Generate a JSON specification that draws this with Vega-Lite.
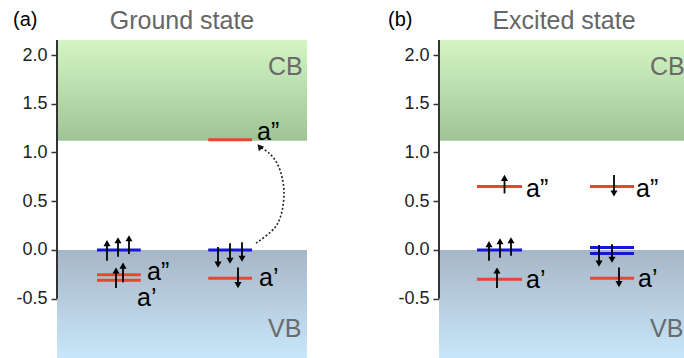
{
  "$schema": "https://vega.github.io/schema/vega-lite/v6.json",
  "padding": {"left": 13, "top": 9, "right": 0, "bottom": 0},
  "spacing": 80,
  "config": {
    "view": {"stroke": null},
    "font": "Liberation Sans",
    "axis": {"grid": false}
  },
  "datasets": {
    "bands": [
      {"panel": "a", "band": "CB", "x": 0, "x2": 10, "y": 1.12, "y2": 2.154},
      {"panel": "a", "band": "VB", "x": 0, "x2": 10, "y": -1.108, "y2": 0},
      {"panel": "b", "band": "CB", "x": 0, "x2": 9.84, "y": 1.12, "y2": 2.154},
      {"panel": "b", "band": "VB", "x": 0, "x2": 9.84, "y": -1.108, "y2": 0}
    ],
    "bandlabels": [
      {"panel": "a", "t": "CB", "x": 8.44, "y": 1.88},
      {"panel": "a", "t": "VB", "x": 8.44, "y": -0.81},
      {"panel": "b", "t": "CB", "x": 8.44, "y": 1.88},
      {"panel": "b", "t": "VB", "x": 8.44, "y": -0.81}
    ],
    "axisline": [
      {"panel": "a", "x": 0, "y": -0.5, "y2": 2.154},
      {"panel": "b", "x": 0, "y": -0.5, "y2": 2.154}
    ],
    "levels": [
      {"panel": "a", "x": 1.6, "x2": 3.35, "y": 0, "orb": "blue"},
      {"panel": "a", "x": 1.6, "x2": 3.35, "y": -0.255, "orb": "red"},
      {"panel": "a", "x": 1.6, "x2": 3.35, "y": -0.31, "orb": "red"},
      {"panel": "a", "x": 6.05, "x2": 7.8, "y": 0, "orb": "blue"},
      {"panel": "a", "x": 6.05, "x2": 7.8, "y": -0.29, "orb": "red"},
      {"panel": "a", "x": 6.05, "x2": 7.8, "y": 1.13, "orb": "red"},
      {"panel": "b", "x": 1.52, "x2": 3.32, "y": 0, "orb": "blue"},
      {"panel": "b", "x": 1.52, "x2": 3.32, "y": -0.3, "orb": "red"},
      {"panel": "b", "x": 1.52, "x2": 3.32, "y": 0.65, "orb": "red"},
      {"panel": "b", "x": 6.04, "x2": 7.8, "y": 0.025, "orb": "blue"},
      {"panel": "b", "x": 6.04, "x2": 7.8, "y": -0.035, "orb": "blue"},
      {"panel": "b", "x": 6.04, "x2": 7.8, "y": -0.29, "orb": "red"},
      {"panel": "b", "x": 6.04, "x2": 7.8, "y": 0.65, "orb": "red"}
    ],
    "arrows": [
      {"panel": "a", "x": 2.0, "y": -0.11, "y2": 0.07, "dir": "up"},
      {"panel": "a", "x": 2.44, "y": -0.07, "y2": 0.1, "dir": "up"},
      {"panel": "a", "x": 2.88, "y": -0.04, "y2": 0.12, "dir": "up"},
      {"panel": "a", "x": 2.36, "y": -0.39, "y2": -0.21, "dir": "up"},
      {"panel": "a", "x": 2.64, "y": -0.33, "y2": -0.16, "dir": "up"},
      {"panel": "a", "x": 6.44, "y": 0.03, "y2": -0.15, "dir": "down"},
      {"panel": "a", "x": 6.92, "y": 0.07, "y2": -0.11, "dir": "down"},
      {"panel": "a", "x": 7.4, "y": 0.08, "y2": -0.09, "dir": "down"},
      {"panel": "a", "x": 7.24, "y": -0.18, "y2": -0.36, "dir": "down"},
      {"panel": "b", "x": 2.0, "y": -0.11, "y2": 0.06, "dir": "up"},
      {"panel": "b", "x": 2.44, "y": -0.08, "y2": 0.09, "dir": "up"},
      {"panel": "b", "x": 2.88, "y": -0.06, "y2": 0.1, "dir": "up"},
      {"panel": "b", "x": 2.32, "y": -0.39, "y2": -0.21, "dir": "up"},
      {"panel": "b", "x": 2.62, "y": 0.58, "y2": 0.74, "dir": "up"},
      {"panel": "b", "x": 7.0, "y": 0.77, "y2": 0.58, "dir": "down"},
      {"panel": "b", "x": 6.4, "y": 0.05, "y2": -0.14, "dir": "down"},
      {"panel": "b", "x": 6.92, "y": 0.06, "y2": -0.1, "dir": "down"},
      {"panel": "b", "x": 7.2, "y": -0.18, "y2": -0.35, "dir": "down"}
    ],
    "labels": [
      {"panel": "a", "t": "a\u201d", "x": 3.6, "y": -0.31},
      {"panel": "a", "t": "a\u2019", "x": 3.2, "y": -0.57},
      {"panel": "a", "t": "a\u2019", "x": 8.08, "y": -0.37},
      {"panel": "a", "t": "a\u201d", "x": 8.0, "y": 1.13},
      {"panel": "b", "t": "a\u201d", "x": 3.48, "y": 0.54},
      {"panel": "b", "t": "a\u2019", "x": 3.48, "y": -0.39},
      {"panel": "b", "t": "a\u201d", "x": 7.88, "y": 0.54},
      {"panel": "b", "t": "a\u2019", "x": 7.96, "y": -0.38}
    ],
    "curve": [
      {"i": 0, "x": 7.96, "y": 0.07},
      {"i": 1, "x": 8.8, "y": 0.26},
      {"i": 2, "x": 9.08, "y": 0.58},
      {"i": 3, "x": 8.86, "y": 0.86},
      {"i": 4, "x": 8.5, "y": 0.99},
      {"i": 5, "x": 8.15, "y": 1.05}
    ],
    "curvehead": [
      {"x": 8.1, "y": 1.06}
    ],
    "titles": [
      {"panel": "a", "t": "Ground state", "x": 5.0, "y": 2.262},
      {"panel": "b", "t": "Excited state", "x": 5.0, "y": 2.262}
    ],
    "tags": [
      {"panel": "a", "t": "(a)", "x": -1.76, "y": 2.355},
      {"panel": "b", "t": "(b)", "x": -2.04, "y": 2.355}
    ]
  },
  "hconcat": [
    {
      "width": 250,
      "height": 318,
      "encoding": {
        "x": {"field": "x", "type": "quantitative", "scale": {"domain": [0, 10], "nice": false, "zero": false}, "axis": null},
        "y": {"field": "y", "type": "quantitative", "scale": {"domain": [-1.108, 2.154], "nice": false, "zero": false},
          "axis": {"domain": false, "values": [-0.5, 0, 0.5, 1, 1.5, 2], "tickSize": 6, "tickWidth": 1.5, "tickColor": "#333333", "labelFontSize": 18, "labelColor": "#222222", "labelPadding": 4, "labelFont": "Liberation Sans", "title": null, "labelExpr": "replace(format(datum.value, '.1f'), '\u2212', '-')"}}
      },
      "layer": [
        {"data": {"name": "bands"}, "transform": [{"filter": "datum.panel == 'a' && datum.band == 'CB'"}],
          "mark": {"type": "rect", "fill": {"gradient": "linear", "x1": 0, "y1": 0, "x2": 0, "y2": 1, "stops": [{"offset": 0, "color": "#d4f6c4"}, {"offset": 1, "color": "#9fc396"}]}},
          "encoding": {"x2": {"field": "x2"}, "y2": {"field": "y2"}}},
        {"data": {"name": "bands"}, "transform": [{"filter": "datum.panel == 'a' && datum.band == 'VB'"}],
          "mark": {"type": "rect", "fill": {"gradient": "linear", "x1": 0, "y1": 0, "x2": 0, "y2": 1, "stops": [{"offset": 0, "color": "#a7b6c6"}, {"offset": 1, "color": "#c8e6fa"}]}},
          "encoding": {"x2": {"field": "x2"}, "y2": {"field": "y2"}}},
        {"data": {"name": "axisline"}, "transform": [{"filter": "datum.panel == 'a'"}],
          "mark": {"type": "rule", "color": "#333333", "strokeWidth": 2},
          "encoding": {"y2": {"field": "y2"}}},
        {"data": {"name": "bandlabels"}, "transform": [{"filter": "datum.panel == 'a'"}],
          "mark": {"type": "text", "align": "left", "baseline": "middle", "fontSize": 25, "color": "#6a6a6a", "font": "Liberation Sans"},
          "encoding": {"text": {"field": "t"}}},
        {"data": {"name": "levels"}, "transform": [{"filter": "datum.panel == 'a'"}],
          "mark": {"type": "rule", "strokeWidth": 3},
          "encoding": {"x2": {"field": "x2"}, "color": {"field": "orb", "type": "nominal", "scale": {"domain": ["red", "blue"], "range": ["#e8472f", "#1616d6"]}, "legend": null}}},
        {"data": {"name": "arrows"}, "transform": [{"filter": "datum.panel == 'a'"}],
          "mark": {"type": "rule", "strokeWidth": 1.8, "color": "#000000"},
          "encoding": {"y2": {"field": "y2"}}},
        {"data": {"name": "arrows"}, "transform": [{"filter": "datum.panel == 'a'"}],
          "mark": {"type": "point", "filled": true, "size": 50, "opacity": 1, "color": "#000000"},
          "encoding": {"y": {"field": "y2", "type": "quantitative"}, "shape": {"field": "dir", "type": "nominal", "scale": {"domain": ["up", "down"], "range": ["triangle-up", "triangle-down"]}, "legend": null}}},
        {"data": {"name": "labels"}, "transform": [{"filter": "datum.panel == 'a'"}],
          "mark": {"type": "text", "align": "left", "baseline": "alphabetic", "fontSize": 25, "color": "#000000", "font": "Liberation Sans"},
          "encoding": {"text": {"field": "t"}}},
        {"data": {"name": "curve"},
          "mark": {"type": "line", "interpolate": "catmull-rom", "strokeDash": [2, 2], "strokeWidth": 1.6, "color": "#222222"},
          "encoding": {"order": {"field": "i", "type": "quantitative"}}},
        {"data": {"name": "curvehead"},
          "mark": {"type": "point", "shape": "triangle-up", "angle": -40, "filled": true, "size": 50, "opacity": 1, "color": "#111111"},
          "encoding": {}},
        {"data": {"name": "titles"}, "transform": [{"filter": "datum.panel == 'a'"}],
          "mark": {"type": "text", "align": "center", "baseline": "alphabetic", "fontSize": 25, "color": "#666666", "font": "Liberation Sans"},
          "encoding": {"text": {"field": "t"}}},
        {"data": {"name": "tags"}, "transform": [{"filter": "datum.panel == 'a'"}],
          "mark": {"type": "text", "align": "left", "baseline": "middle", "fontSize": 20, "color": "#000000", "font": "Liberation Sans"},
          "encoding": {"text": {"field": "t"}}}
      ]
    },
    {
      "width": 246,
      "height": 318,
      "encoding": {
        "x": {"field": "x", "type": "quantitative", "scale": {"domain": [0, 9.84], "nice": false, "zero": false}, "axis": null},
        "y": {"field": "y", "type": "quantitative", "scale": {"domain": [-1.108, 2.154], "nice": false, "zero": false},
          "axis": {"domain": false, "values": [-0.5, 0, 0.5, 1, 1.5, 2], "tickSize": 6, "tickWidth": 1.5, "tickColor": "#333333", "labelFontSize": 18, "labelColor": "#222222", "labelPadding": 4, "labelFont": "Liberation Sans", "title": null, "labelExpr": "replace(format(datum.value, '.1f'), '\u2212', '-')"}}
      },
      "layer": [
        {"data": {"name": "bands"}, "transform": [{"filter": "datum.panel == 'b' && datum.band == 'CB'"}],
          "mark": {"type": "rect", "fill": {"gradient": "linear", "x1": 0, "y1": 0, "x2": 0, "y2": 1, "stops": [{"offset": 0, "color": "#d4f6c4"}, {"offset": 1, "color": "#9fc396"}]}},
          "encoding": {"x2": {"field": "x2"}, "y2": {"field": "y2"}}},
        {"data": {"name": "bands"}, "transform": [{"filter": "datum.panel == 'b' && datum.band == 'VB'"}],
          "mark": {"type": "rect", "fill": {"gradient": "linear", "x1": 0, "y1": 0, "x2": 0, "y2": 1, "stops": [{"offset": 0, "color": "#a7b6c6"}, {"offset": 1, "color": "#c8e6fa"}]}},
          "encoding": {"x2": {"field": "x2"}, "y2": {"field": "y2"}}},
        {"data": {"name": "axisline"}, "transform": [{"filter": "datum.panel == 'b'"}],
          "mark": {"type": "rule", "color": "#333333", "strokeWidth": 2},
          "encoding": {"y2": {"field": "y2"}}},
        {"data": {"name": "bandlabels"}, "transform": [{"filter": "datum.panel == 'b'"}],
          "mark": {"type": "text", "align": "left", "baseline": "middle", "fontSize": 25, "color": "#6a6a6a", "font": "Liberation Sans", "clip": true},
          "encoding": {"text": {"field": "t"}}},
        {"data": {"name": "levels"}, "transform": [{"filter": "datum.panel == 'b'"}],
          "mark": {"type": "rule", "strokeWidth": 3},
          "encoding": {"x2": {"field": "x2"}, "color": {"field": "orb", "type": "nominal", "scale": {"domain": ["red", "blue"], "range": ["#e8472f", "#1616d6"]}, "legend": null}}},
        {"data": {"name": "arrows"}, "transform": [{"filter": "datum.panel == 'b'"}],
          "mark": {"type": "rule", "strokeWidth": 1.8, "color": "#000000"},
          "encoding": {"y2": {"field": "y2"}}},
        {"data": {"name": "arrows"}, "transform": [{"filter": "datum.panel == 'b'"}],
          "mark": {"type": "point", "filled": true, "size": 50, "opacity": 1, "color": "#000000"},
          "encoding": {"y": {"field": "y2", "type": "quantitative"}, "shape": {"field": "dir", "type": "nominal", "scale": {"domain": ["up", "down"], "range": ["triangle-up", "triangle-down"]}, "legend": null}}},
        {"data": {"name": "labels"}, "transform": [{"filter": "datum.panel == 'b'"}],
          "mark": {"type": "text", "align": "left", "baseline": "alphabetic", "fontSize": 25, "color": "#000000", "font": "Liberation Sans"},
          "encoding": {"text": {"field": "t"}}},
        {"data": {"name": "titles"}, "transform": [{"filter": "datum.panel == 'b'"}],
          "mark": {"type": "text", "align": "center", "baseline": "alphabetic", "fontSize": 25, "color": "#666666", "font": "Liberation Sans"},
          "encoding": {"text": {"field": "t"}}},
        {"data": {"name": "tags"}, "transform": [{"filter": "datum.panel == 'b'"}],
          "mark": {"type": "text", "align": "left", "baseline": "middle", "fontSize": 20, "color": "#000000", "font": "Liberation Sans"},
          "encoding": {"text": {"field": "t"}}}
      ]
    }
  ]
}
